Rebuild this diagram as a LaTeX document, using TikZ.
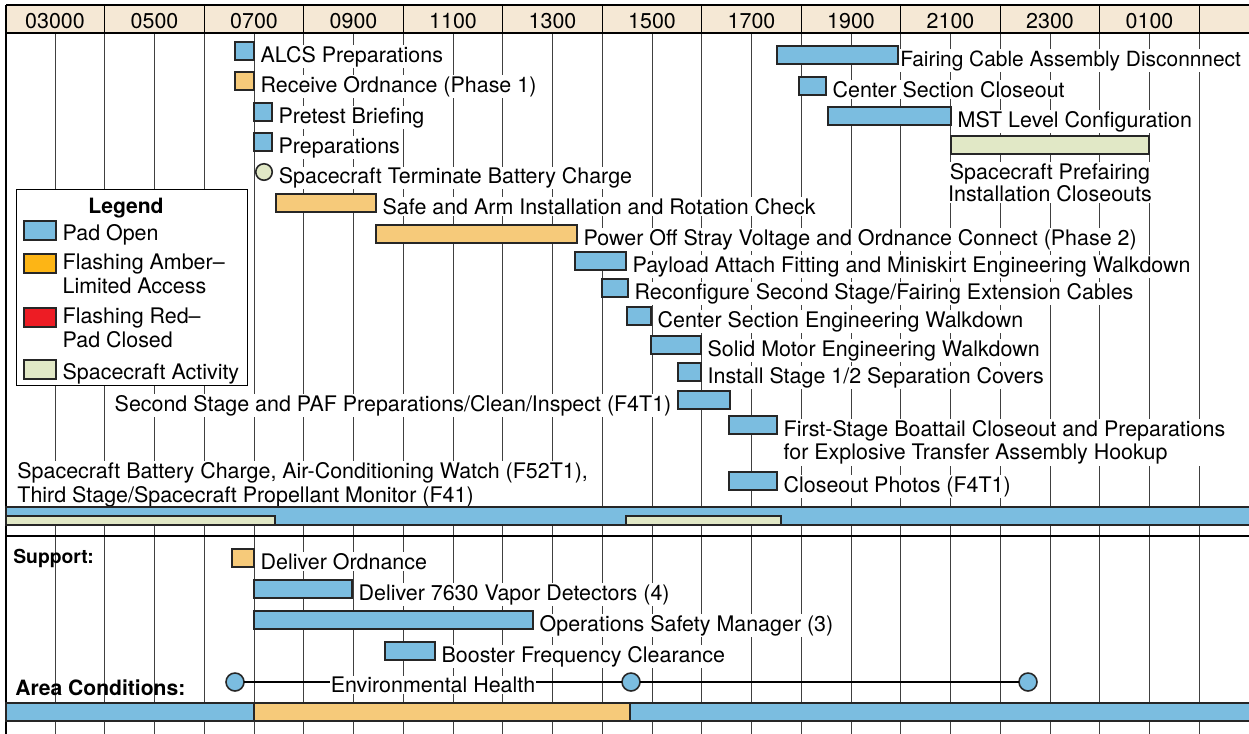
\documentclass[tikz,border=0pt]{standalone}
\usepackage{fontspec}
\setmainfont{TeX Gyre Heros}
\usetikzlibrary{positioning, math}
\definecolor{padblue}{RGB}{123,189,224}
\definecolor{amberbar}{RGB}{246,202,122}
\definecolor{amberkey}{RGB}{253,181,21}
\definecolor{redkey}{RGB}{237,28,36}
\definecolor{craftgreen}{RGB}{225,232,198}
\definecolor{headtan}{RGB}{245,232,213}

\tikzset{
  taskbox/.style={draw=black!85, line width=0.9pt, minimum height=0.36cm, inner sep=0pt, outer sep=0pt},
  padopen/.style={taskbox, fill=padblue},
  amberfill/.style={taskbox, fill=amberbar},
  craftfill/.style={taskbox, fill=craftgreen},
  keybox/.style={taskbox, minimum width=0.64cm, minimum height=0.38cm, anchor=north west},
  lbl/.style={fill=white, inner sep=0.6pt, align=left, font=\fontsize{12.2}{13.5}\selectfont},
  hdr/.style={font=\fontsize{12.2}{13.5}\selectfont},
  gridline/.style={black!75, line width=0.5pt},
  heading/.style={inner sep=0pt, font=\bfseries\fontsize{12}{13.5}\selectfont},
}

% bar with its label on the right
\newcommand{\taskbar}[6]{%
  \node[#2, minimum width={(#4-#3)*0.02cm}, anchor=north west] (#1) at (#3,#5) {};
  \node[lbl, anchor=base west] (#1txt) at ([xshift=3pt,yshift=-1.2pt]#1.south east) {#6};
}

\begin{document}
\begin{tikzpicture}[x=0.02cm, y=-0.02cm]
\tikzmath{
\hr=49.75;
\xs=254;
}
\useasboundingbox (0,0) rectangle (1249,734);
\clip (0,0) rectangle (1249,734);

%time grid
\foreach \h in {3,...,26}
  \draw[gridline] ({\xs+(\h-7)*\hr},33) -- ++(0,701);

%header
\fill[headtan] (7,5) rectangle (1260,33);
\foreach \h in {4,6,...,26}
  \draw[line width=0.6pt] ({\xs+(\h-7)*\hr},5) -- ++(0,28);
\foreach \h/\t in {3/03000,5/0500,7/0700,9/0900,11/1100,13/1300,15/1500,17/1700,19/1900,21/2100,23/2300,25/0100}
  \node[hdr] (hdr\h) at ({\xs+(\h-7)*\hr},21) {\t};
\draw[line width=0.9pt] (7,33) -- (1260,33);
\draw[line width=1.6pt] (6,5) -- (1260,5);
\draw[line width=1.4pt] (6,5) -- (6,734);

%pad tasks
\taskbar{alcs}{padopen}{235}{254}{42}{ALCS Preparations}
\taskbar{recv}{amberfill}{235}{254}{72}{Receive Ordnance (Phase 1)}
\taskbar{brief}{padopen}{254}{272}{103}{Pretest Briefing}
\taskbar{prep}{padopen}{254}{272}{133}{Preparations}
\node[craftfill, circle, minimum size=0.33cm] (term) at (264,172) {};
\node[lbl, anchor=west, yshift=-0.12cm] (termtxt) at ([xshift=3pt]term.east) {Spacecraft Terminate Battery Charge};
\taskbar{safe}{amberfill}{276}{376}{194}{Safe and Arm Installation and Rotation Check}
\taskbar{power}{amberfill}{376}{577}{225}{Power Off Stray Voltage and Ordnance Connect (Phase 2)}
\taskbar{paf}{padopen}{575}{626}{252}{Payload Attach Fitting and Miniskirt Engineering Walkdown}
\taskbar{reconf}{padopen}{602}{628}{279}{Reconfigure Second Stage/Fairing Extension Cables}
\taskbar{cseng}{padopen}{627}{651}{307}{Center Section Engineering Walkdown}
\taskbar{motor}{padopen}{651}{701}{336}{Solid Motor Engineering Walkdown}
\taskbar{sepcov}{padopen}{678}{701}{363}{Install Stage 1/2 Separation Covers}
\node[padopen, minimum width=1.04cm, anchor=north west] (clean) at (678,391) {};
\node[lbl, anchor=base east] (cleantxt) at ([xshift=-3pt,yshift=-1.2pt]clean.south west) {Second Stage and PAF Preparations/Clean/Inspect (F4T1)};
\node[padopen, minimum width=0.96cm, anchor=north west] (boattail) at (729,416) {};
\node[lbl, anchor=base west] (boattailtxt) at ([xshift=3pt,yshift=-14.7pt]boattail.south east) {First-Stage Boattail Closeout and Preparations\\for Explosive Transfer Assembly Hookup};
\taskbar{photos}{padopen}{729}{777}{472}{Closeout Photos (F4T1)}
\node[padopen, minimum width=2.42cm, anchor=north west] (fairing) at (777,46) {};
\node[lbl, anchor=base west, font=\fontsize{11.9}{13.5}\selectfont] (fairingtxt) at ([xshift=0.5pt,yshift=-1.2pt]fairing.south east) {Fairing Cable Assembly Disconnnect};
\taskbar{csclose}{padopen}{799}{826}{77}{Center Section Closeout}
\taskbar{mst}{padopen}{828}{951}{107}{MST Level Configuration}
\node[craftfill, minimum width=3.96cm, anchor=north west] (prefair) at (951,136) {};
\node[lbl, align=center, below=0.16cm of prefair, font=\fontsize{12.2}{12.8}\selectfont] (prefairtxt) {Spacecraft Prefairing\\Installation Closeouts};
\node[lbl, anchor=north west] (battery) at (16,461) {Spacecraft Battery Charge, Air-Conditioning Watch (F52T1),\\Third Stage/Spacecraft Propellant Monitor (F41)};

%pad status
\node[padopen, minimum width=25.1cm, anchor=north west] (padline) at (6,507) {};
\node[craftfill, minimum width=5.38cm, minimum height=0.18cm, anchor=south west] (craft1) at (6,525) {};
\node[craftfill, minimum width=3.1cm, minimum height=0.18cm, anchor=south west] (craft2) at (626,525) {};
\draw[line width=1.2pt] (6,536) -- (1260,536);

%legend
\node[draw, fill=white, line width=0.6pt, minimum width=4.62cm, minimum height=3.92cm, anchor=north west] (legend) at (16,189) {};
\node[heading] (legendtxt) at (126,208) {Legend};
\node[keybox, fill=padblue] (keyopen) at (24,221) {};
\node[lbl, anchor=base west] (keyopentxt) at ([xshift=3pt,yshift=0pt]keyopen.south east) {Pad Open};
\node[keybox, fill=amberkey] (keyamber) at (24,254) {};
\node[lbl, anchor=base west] (keyambertxt) at ([xshift=3pt,yshift=-11.5pt]keyamber.south east) {Flashing Amber--\\Limited Access};
\node[keybox, fill=redkey] (keyred) at (24,308) {};
\node[lbl, anchor=base west] (keyredtxt) at ([xshift=3pt,yshift=-11.5pt]keyred.south east) {Flashing Red--\\Pad Closed};
\node[keybox, fill=craftgreen] (keycraft) at (24,360) {};
\node[lbl, anchor=base west] (keycrafttxt) at ([xshift=3pt,yshift=0pt]keycraft.south east) {Spacecraft Activity};

%support
\node[heading, anchor=base west, font=\bfseries\fontsize{11}{13}\selectfont] (support) at (13,563) {Support:};
\taskbar{ordn}{amberfill}{232}{254}{549}{Deliver Ordnance}
\taskbar{vapor}{padopen}{254}{352}{580}{Deliver 7630 Vapor Detectors (4)}
\taskbar{osm}{padopen}{254}{533}{611}{Operations Safety Manager (3)}
\taskbar{freq}{padopen}{385}{435}{642}{Booster Frequency Clearance}

%area conditions
\node[heading, anchor=base west] (area) at (15,695) {Area Conditions:};
\node[taskbox, circle, fill=padblue, minimum size=0.36cm] (eh1) at (235,682) {};
\node[taskbox, circle, fill=padblue, minimum size=0.36cm] (eh2) at (631,682) {};
\node[taskbox, circle, fill=padblue, minimum size=0.36cm] (eh3) at (1028,682) {};
\draw[line width=1.3pt] (eh1) -- node[lbl, yshift=-0.06cm] (ehtxt) {Environmental Health} (eh2) -- (eh3);
\node[padopen, minimum width=4.96cm, anchor=north west] (area1) at (6,703) {};
\node[amberfill, minimum width=7.52cm, anchor=north west] (area2) at (254,703) {};
\node[padopen, minimum width=12.6cm, anchor=north west] (area3) at (630,703) {};
\end{tikzpicture}
\end{document}
